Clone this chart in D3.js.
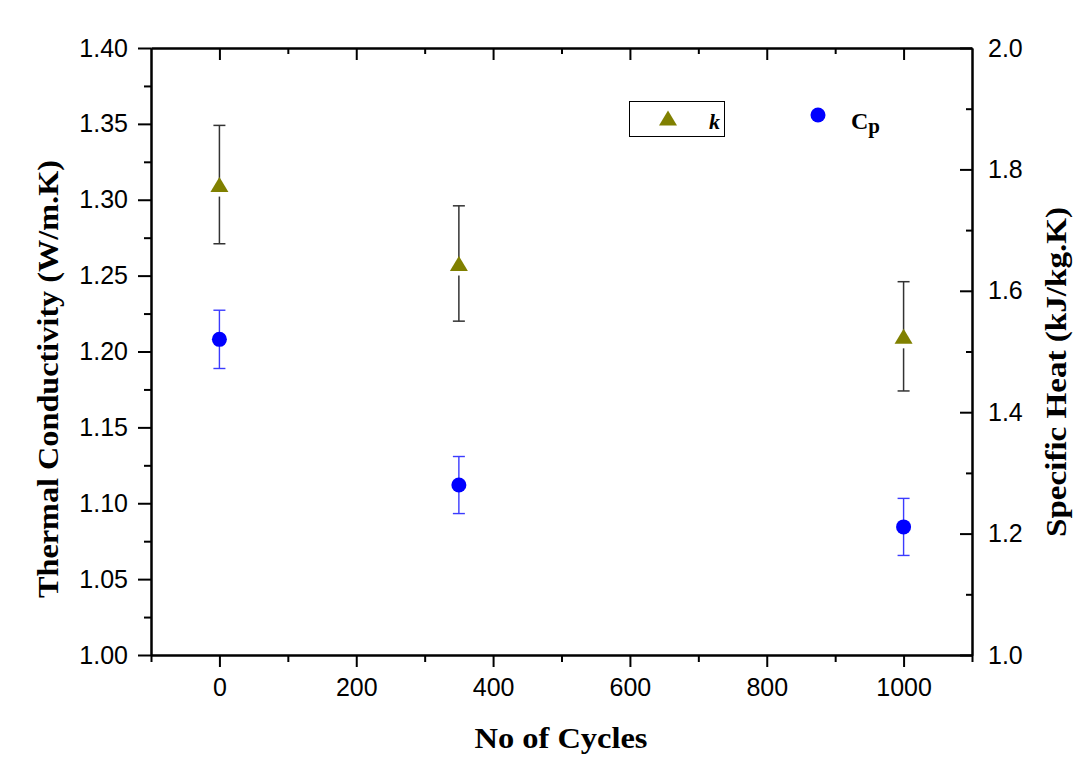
<!DOCTYPE html>
<html>
<head>
<meta charset="utf-8">
<script src="https://cdn.jsdelivr.net/npm/d3@7"></script>
<style>
  body { margin: 0; background: #fff; }
  .tick text { font-family: Arial, "Liberation Sans", sans-serif; }
</style>
</head>
<body>
<div id="chart"></div>
<script>
// Data
const cycles = [0, 350, 1000];
const kValues = [1.310, 1.258, 1.210];   // thermal conductivity, W/m.K
const kErrors = [0.039, 0.038, 0.036];
const cpValues = [1.520, 1.280, 1.211];  // specific heat, kJ/kg.K
const cpErrors = [0.048, 0.047, 0.047];

const xMajor = [0, 200, 400, 600, 800, 1000];
const xMinor = [-100, 100, 300, 500, 700, 900, 1100];
const kMajor = [1.00, 1.05, 1.10, 1.15, 1.20, 1.25, 1.30, 1.35, 1.40];
const kMinor = [1.025, 1.075, 1.125, 1.175, 1.225, 1.275, 1.325, 1.375];
const cpMajor = [1.0, 1.2, 1.4, 1.6, 1.8, 2.0];
const cpMinor = [1.1, 1.3, 1.5, 1.7, 1.9];

const width = 1091, height = 769;
const plotLeft = 151, plotRight = 972, plotTop = 48, plotBottom = 655;

const svg = d3.select("#chart").append("svg")
  .attr("width", width)
  .attr("height", height);

const x = d3.scaleLinear().domain([-100, 1100]).range([plotLeft, plotRight]);
const yK = d3.scaleLinear().domain([1.0, 1.4]).range([plotBottom, plotTop]);
const yCp = d3.scaleLinear().domain([1.0, 2.0]).range([plotBottom, plotTop]);

function styleAxis(g) {
  g.selectAll("path").attr("stroke", "#000").attr("stroke-width", 2);
  g.selectAll("line").attr("stroke", "#000").attr("stroke-width", 2);
  g.selectAll("text").attr("font-size", 25).attr("fill", "#000");
}

// bottom axis (ticks outward)
svg.append("g").attr("transform", `translate(0,${plotBottom})`)
  .call(d3.axisBottom(x).tickValues(xMinor).tickSize(7).tickFormat("").tickSizeOuter(0))
  .call(styleAxis);
svg.append("g").attr("transform", `translate(0,${plotBottom})`)
  .call(d3.axisBottom(x).tickValues(xMajor).tickSize(12).tickPadding(11).tickFormat(d3.format("d")).tickSizeOuter(0))
  .call(styleAxis);

// top axis (ticks inward)
svg.append("g").attr("transform", `translate(0,${plotTop})`)
  .call(d3.axisBottom(x).tickValues(xMinor.slice(1, -1)).tickSize(6).tickFormat("").tickSizeOuter(0))
  .call(styleAxis);
svg.append("g").attr("transform", `translate(0,${plotTop})`)
  .call(d3.axisBottom(x).tickValues(xMajor).tickSize(12).tickFormat("").tickSizeOuter(0))
  .call(styleAxis);

// left axis (ticks outward)
svg.append("g").attr("transform", `translate(${plotLeft},0)`)
  .call(d3.axisLeft(yK).tickValues(kMinor).tickSize(7).tickFormat("").tickSizeOuter(0))
  .call(styleAxis);
svg.append("g").attr("transform", `translate(${plotLeft},0)`)
  .call(d3.axisLeft(yK).tickValues(kMajor).tickSize(13).tickPadding(10).tickFormat(d3.format(".2f")).tickSizeOuter(0))
  .call(styleAxis);

// right axis (ticks inward, labels outside)
svg.append("g").attr("transform", `translate(${plotRight},0)`)
  .call(d3.axisLeft(yCp).tickValues(cpMinor).tickSize(6).tickFormat("").tickSizeOuter(0))
  .call(styleAxis);
svg.append("g").attr("transform", `translate(${plotRight},0)`)
  .call(d3.axisLeft(yCp).tickValues(cpMajor).tickSize(12).tickFormat("").tickSizeOuter(0))
  .call(styleAxis);
svg.append("g").attr("transform", `translate(${plotRight},0)`)
  .call(d3.axisRight(yCp).tickValues(cpMajor).tickSize(0).tickPadding(16).tickFormat(d3.format(".1f")).tickSizeOuter(0))
  .call(styleAxis)
  .call(g => g.select(".domain").remove());

// axis titles
const titleFont = "'Times New Roman', 'Liberation Serif', serif";
svg.append("text")
  .attr("x", 561).attr("y", 748)
  .attr("text-anchor", "middle")
  .attr("font-family", titleFont).attr("font-weight", "bold").attr("font-size", 29)
  .attr("textLength", 173).attr("lengthAdjust", "spacingAndGlyphs")
  .text("No of Cycles");

svg.append("text")
  .attr("transform", "translate(58,379) rotate(-90)")
  .attr("text-anchor", "middle")
  .attr("font-family", titleFont).attr("font-weight", "bold").attr("font-size", 29)
  .attr("textLength", 438).attr("lengthAdjust", "spacingAndGlyphs")
  .text("Thermal Conductivity (W/m.K)");

svg.append("text")
  .attr("transform", "translate(1066,372) rotate(-90)")
  .attr("text-anchor", "middle")
  .attr("font-family", titleFont).attr("font-weight", "bold").attr("font-size", 29)
  .attr("textLength", 330).attr("lengthAdjust", "spacingAndGlyphs")
  .text("Specific Heat (kJ/kg.K)");

// triangle path helper, centred on its bounding box
function triangle(cx, cy, w, h) {
  return `M${cx - w / 2},${cy + h / 2}L${cx + w / 2},${cy + h / 2}L${cx},${cy - h / 2}Z`;
}

const kData = cycles.map((c, i) => ({ c, v: kValues[i], e: kErrors[i] }));
const cpData = cycles.map((c, i) => ({ c, v: cpValues[i], e: cpErrors[i] }));

// k error bars (gap below the symbol)
const kBars = svg.append("g").attr("stroke", "#333").attr("stroke-width", 1.5);
kBars.selectAll(".up").data(kData).enter().append("line")
  .attr("x1", d => x(d.c)).attr("x2", d => x(d.c))
  .attr("y1", d => yK(d.v + d.e)).attr("y2", d => yK(d.v));
kBars.selectAll(".down").data(kData).enter().append("line")
  .attr("x1", d => x(d.c)).attr("x2", d => x(d.c))
  .attr("y1", d => yK(d.v) + 12).attr("y2", d => yK(d.v - d.e));
kBars.selectAll(".capT").data(kData).enter().append("line")
  .attr("x1", d => x(d.c) - 6).attr("x2", d => x(d.c) + 6)
  .attr("y1", d => yK(d.v + d.e)).attr("y2", d => yK(d.v + d.e));
kBars.selectAll(".capB").data(kData).enter().append("line")
  .attr("x1", d => x(d.c) - 6).attr("x2", d => x(d.c) + 6)
  .attr("y1", d => yK(d.v - d.e)).attr("y2", d => yK(d.v - d.e));

svg.selectAll(".kpt").data(kData).enter().append("path")
  .attr("class", "kpt")
  .attr("d", d => triangle(x(d.c), yK(d.v), 18, 15))
  .attr("fill", "#808000");

// Cp error bars
const cpBars = svg.append("g").attr("stroke", "#3b3bff").attr("stroke-width", 1.4);
cpBars.selectAll(".v").data(cpData).enter().append("line")
  .attr("x1", d => x(d.c)).attr("x2", d => x(d.c))
  .attr("y1", d => yCp(d.v + d.e)).attr("y2", d => yCp(d.v - d.e));
cpBars.selectAll(".capT").data(cpData).enter().append("line")
  .attr("x1", d => x(d.c) - 6).attr("x2", d => x(d.c) + 6)
  .attr("y1", d => yCp(d.v + d.e)).attr("y2", d => yCp(d.v + d.e));
cpBars.selectAll(".capB").data(cpData).enter().append("line")
  .attr("x1", d => x(d.c) - 6).attr("x2", d => x(d.c) + 6)
  .attr("y1", d => yCp(d.v - d.e)).attr("y2", d => yCp(d.v - d.e));

svg.selectAll(".cppt").data(cpData).enter().append("circle")
  .attr("class", "cppt")
  .attr("cx", d => x(d.c)).attr("cy", d => yCp(d.v))
  .attr("r", 7.5)
  .attr("fill", "#0000ff");

// legend
const legend = svg.append("g");
legend.append("rect")
  .attr("x", 629.5).attr("y", 101.5).attr("width", 95).attr("height", 35)
  .attr("fill", "none").attr("stroke", "#000").attr("stroke-width", 1);
legend.append("path").attr("d", triangle(668, 118, 18, 15)).attr("fill", "#808000");
legend.append("text")
  .attr("x", 709).attr("y", 129)
  .attr("font-family", titleFont).attr("font-weight", "bold").attr("font-style", "italic")
  .attr("font-size", 22)
  .text("k");
legend.append("circle").attr("cx", 818).attr("cy", 115).attr("r", 7.5).attr("fill", "#0000ff");
const cpLabel = legend.append("text")
  .attr("x", 851).attr("y", 129)
  .attr("font-family", titleFont).attr("font-weight", "bold").attr("font-size", 24);
cpLabel.append("tspan").text("C");
cpLabel.append("tspan").attr("dy", 4).attr("font-size", 21).text("p");
</script>
</body>
</html>
